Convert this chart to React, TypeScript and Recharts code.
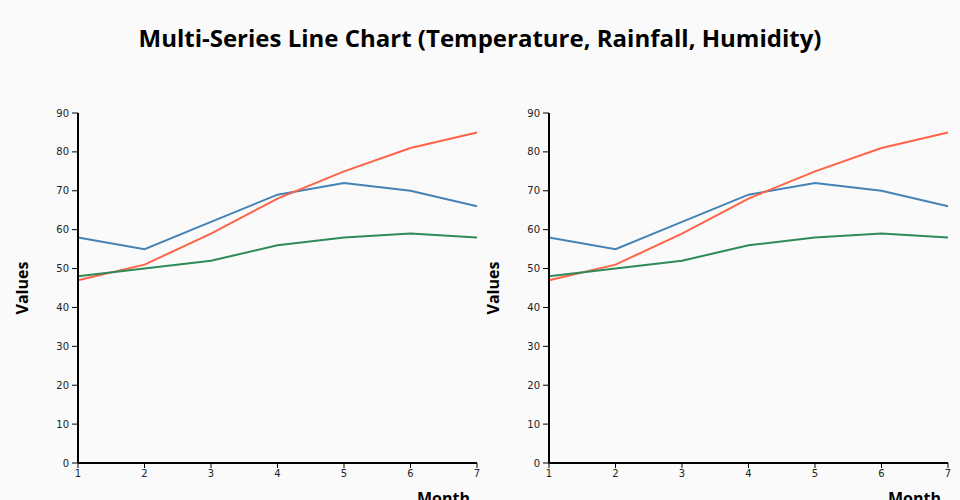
import React from 'react';
import { LineChart, XAxis, YAxis, Line, Label } from 'recharts';

const months = [1, 2, 3, 4, 5, 6, 7];
const temperature = [47, 51, 59, 68, 75, 81, 85];
const rainfall = [58, 55, 62, 69, 72, 70, 66];
const humidity = [48, 50, 52, 56, 58, 59, 58];
const yTicks = [0, 10, 20, 30, 40, 50, 60, 70, 80, 90];

const data = months.map((m, i) => ({
  month: m,
  temperature: temperature[i],
  rainfall: rainfall[i],
  humidity: humidity[i],
}));

const tickStyle = { fontSize: 10, fill: '#222', fontFamily: 'DejaVu Sans' };

const ValuesLabel = (props: any) => {
  const { x, y, height } = props.viewBox;
  const cx = x + 10;
  const cy = y + height / 2;
  return (
    <text
      x={cx}
      y={cy}
      transform={`rotate(-90, ${cx}, ${cy})`}
      textAnchor="middle"
      fontSize={16}
      fontWeight="bold"
      fontFamily="Open Sans"
      fill="#000"
    >
      Values
    </text>
  );
};

const MonthLabel = (props: any) => {
  const { x, y, width } = props.viewBox;
  return (
    <text
      x={x + width - 7}
      y={y + 41}
      textAnchor="end"
      fontSize={16}
      fontWeight="bold"
      fontFamily="Open Sans"
      fill="#000"
    >
      Month
    </text>
  );
};

const Panel: React.FC<{ width: number; right: number }> = ({ width, right }) => (
  <LineChart
    width={width}
    height={500}
    data={data}
    margin={{ top: 113, right, left: 18, bottom: 0 }}
  >
    <XAxis
      dataKey="month"
      type="number"
      domain={[1, 7]}
      ticks={months}
      height={37}
      tick={tickStyle}
      tickSize={5}
      tickMargin={2}
      axisLine={{ stroke: '#000', strokeWidth: 2 }}
      tickLine={{ stroke: '#000' }}
    >
      <Label content={<MonthLabel />} />
    </XAxis>
    <YAxis
      type="number"
      domain={[0, 90]}
      ticks={yTicks}
      width={60}
      tick={tickStyle}
      tickSize={6}
      tickMargin={3}
      axisLine={{ stroke: '#000', strokeWidth: 2 }}
      tickLine={{ stroke: '#000' }}
    >
      <Label content={<ValuesLabel />} />
    </YAxis>
    <Line dataKey="rainfall" stroke="#4682b4" strokeWidth={2} dot={false} isAnimationActive={false} />
    <Line dataKey="temperature" stroke="#ff6347" strokeWidth={2} dot={false} isAnimationActive={false} />
    <Line dataKey="humidity" stroke="#2e8b57" strokeWidth={2} dot={false} isAnimationActive={false} />
  </LineChart>
);

export default function App() {
  return (
    <div
      style={{
        position: 'absolute',
        top: 0,
        left: 0,
        width: 960,
        height: 500,
        overflow: 'hidden',
        background: '#fafafa',
      }}
    >
      <div
        style={{
          position: 'absolute',
          top: 20,
          left: 0,
          width: 960,
          textAlign: 'center',
          fontFamily: 'Open Sans',
          fontWeight: 'bold',
          fontSize: 24,
          lineHeight: '36px',
          color: '#000',
        }}
      >
        Multi-Series Line Chart (Temperature, Rainfall, Humidity)
      </div>
      <div style={{ position: 'absolute', top: 0, left: 0 }}>
        <Panel width={480} right={3} />
      </div>
      <div style={{ position: 'absolute', top: 0, left: 471 }}>
        <Panel width={489} right={12} />
      </div>
    </div>
  );
}
